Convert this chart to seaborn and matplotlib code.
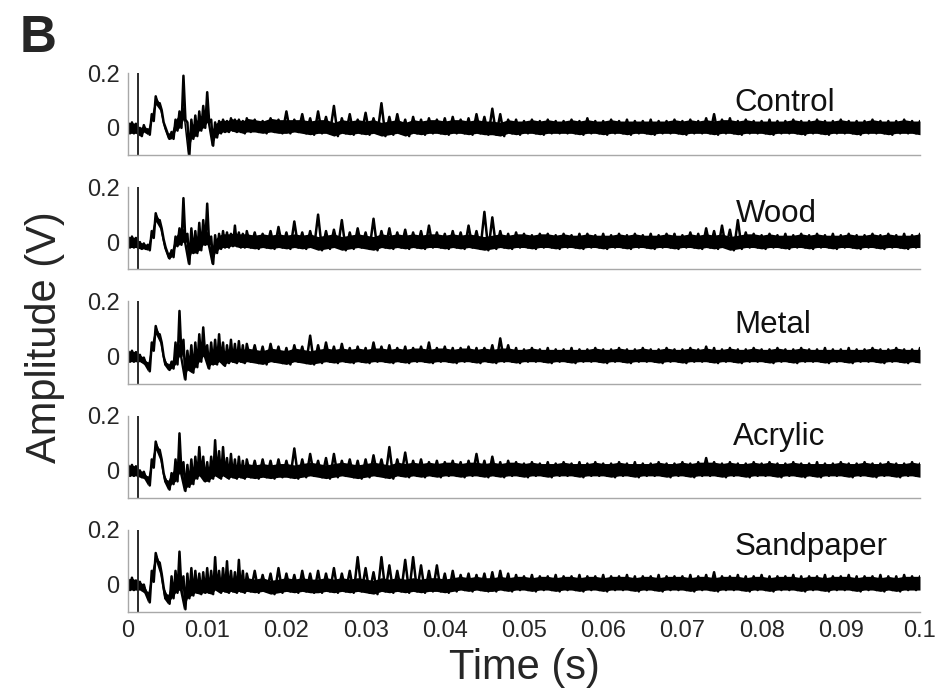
import numpy as np
import matplotlib
matplotlib.use("Agg")
import matplotlib.pyplot as plt
import seaborn as sns

# ---------------------------------------------------------------------------
# Recorded vibration traces (V). Each trace is stored as the upper and lower
# extent of the signal band at every sample time: 0.5 ms steps up to 15 ms,
# then 1 ms steps up to 100 ms.
# ---------------------------------------------------------------------------
time_fine_ms = np.arange(0.0, 15.01, 0.5)
time_coarse_ms = np.arange(16.0, 100.01, 1.0)

surfaces = ["Control", "Wood", "Metal", "Acrylic", "Sandpaper"]

control_upper = [
    0.02, 0.02, 0.015, 0.0, 0.01, -0.005, 0.05, 0.115, 0.09, 0.02,
    -0.02, -0.015, 0.03, 0.06, 0.19, 0.02, 0.03, 0.045, 0.06, 0.08,
    0.13, 0.03, 0.02, 0.025, 0.03, 0.025, 0.035, 0.03, 0.03, 0.025, 0.035,
    0.03, 0.025, 0.035, 0.03, 0.06, 0.03, 0.05, 0.035, 0.06, 0.04,
    0.08, 0.035, 0.05, 0.03, 0.055, 0.035, 0.09, 0.04, 0.05, 0.03,
    0.04, 0.03, 0.035, 0.03, 0.035, 0.04, 0.03, 0.035, 0.05, 0.04,
    0.07, 0.05, 0.03, 0.03, 0.025, 0.03, 0.025, 0.03, 0.025, 0.025,
    0.03, 0.025, 0.035, 0.025, 0.025, 0.03, 0.025, 0.03, 0.025, 0.025,
    0.03, 0.025, 0.025, 0.03, 0.025, 0.03, 0.025, 0.035, 0.05, 0.03,
    0.035, 0.025, 0.03, 0.025, 0.025, 0.03, 0.025, 0.025, 0.03, 0.025,
    0.025, 0.03, 0.025, 0.025, 0.03, 0.025, 0.025, 0.025, 0.03, 0.025,
    0.025, 0.025, 0.03, 0.025, 0.025,
]
control_lower = [
    -0.02, -0.02, -0.02, -0.03, -0.015, -0.025, 0.025, 0.085, 0.065, 0.0,
    -0.04, -0.04, -0.01, 0.0, 0.03, -0.1, -0.04, -0.03, -0.01, 0.0,
    0.02, -0.065, -0.035, -0.02, -0.015, -0.015, -0.01, -0.015, -0.015, -0.02, -0.015,
    -0.015, -0.02, -0.015, -0.02, -0.02, -0.015, -0.02, -0.025, -0.02, -0.02,
    -0.03, -0.02, -0.025, -0.02, -0.025, -0.02, -0.03, -0.025, -0.02, -0.03,
    -0.02, -0.025, -0.02, -0.02, -0.025, -0.02, -0.02, -0.025, -0.02, -0.025,
    -0.025, -0.03, -0.02, -0.025, -0.02, -0.02, -0.025, -0.02, -0.02, -0.02,
    -0.02, -0.025, -0.02, -0.02, -0.025, -0.02, -0.02, -0.025, -0.02, -0.02,
    -0.025, -0.02, -0.02, -0.02, -0.025, -0.02, -0.02, -0.02, -0.025, -0.02,
    -0.02, -0.025, -0.02, -0.02, -0.02, -0.025, -0.02, -0.02, -0.02, -0.025,
    -0.02, -0.02, -0.025, -0.02, -0.02, -0.02, -0.025, -0.02, -0.02, -0.02,
    -0.025, -0.02, -0.02, -0.02, -0.025,
]

wood_upper = [
    0.02, 0.02, 0.015, 0.0, -0.005, -0.01, 0.04, 0.105, 0.08, 0.01,
    -0.04, -0.03, 0.02, 0.05, 0.16, 0.03, 0.05, 0.04, 0.07, 0.08,
    0.14, 0.02, 0.025, 0.03, 0.04, 0.035, 0.03, 0.06, 0.035, 0.03, 0.04,
    0.035, 0.03, 0.04, 0.055, 0.035, 0.075, 0.035, 0.04, 0.1, 0.04,
    0.045, 0.08, 0.035, 0.05, 0.035, 0.085, 0.04, 0.05, 0.035, 0.045,
    0.035, 0.04, 0.06, 0.035, 0.03, 0.04, 0.035, 0.06, 0.04, 0.11,
    0.09, 0.04, 0.03, 0.035, 0.03, 0.025, 0.03, 0.03, 0.025, 0.03,
    0.025, 0.03, 0.03, 0.025, 0.03, 0.025, 0.03, 0.025, 0.03, 0.025,
    0.03, 0.025, 0.03, 0.03, 0.025, 0.035, 0.03, 0.05, 0.04, 0.06,
    0.045, 0.08, 0.035, 0.03, 0.025, 0.03, 0.025, 0.03, 0.025, 0.03,
    0.025, 0.03, 0.025, 0.03, 0.025, 0.03, 0.025, 0.025, 0.03, 0.025,
    0.03, 0.025, 0.03, 0.025, 0.03,
]
wood_lower = [
    -0.02, -0.02, -0.02, -0.025, -0.025, -0.03, 0.015, 0.075, 0.05, -0.02,
    -0.06, -0.055, -0.015, -0.01, 0.0, -0.08, -0.04, -0.04, -0.03, -0.01,
    -0.01, -0.08, -0.04, -0.025, -0.02, -0.02, -0.015, -0.015, -0.02, -0.02, -0.02,
    -0.025, -0.02, -0.025, -0.02, -0.025, -0.02, -0.025, -0.02, -0.03, -0.025,
    -0.02, -0.03, -0.025, -0.02, -0.025, -0.03, -0.02, -0.025, -0.02, -0.025,
    -0.02, -0.025, -0.02, -0.02, -0.025, -0.02, -0.025, -0.02, -0.025, -0.03,
    -0.025, -0.02, -0.025, -0.02, -0.02, -0.025, -0.02, -0.02, -0.025, -0.02,
    -0.02, -0.025, -0.02, -0.02, -0.025, -0.02, -0.02, -0.025, -0.02, -0.02,
    -0.025, -0.02, -0.02, -0.025, -0.02, -0.02, -0.025, -0.02, -0.025, -0.02,
    -0.03, -0.025, -0.02, -0.02, -0.025, -0.02, -0.02, -0.025, -0.02, -0.02,
    -0.025, -0.02, -0.02, -0.025, -0.02, -0.02, -0.025, -0.02, -0.02, -0.025,
    -0.02, -0.02, -0.025, -0.02, -0.02,
]

metal_upper = [
    0.02, 0.02, 0.015, 0.005, -0.005, -0.025, 0.05, 0.11, 0.08, 0.0,
    -0.03, -0.02, 0.05, 0.165, 0.06, 0.02, 0.04, 0.05, 0.08, 0.105,
    0.04, 0.05, 0.06, 0.08, 0.05, 0.04, 0.06, 0.045, 0.055, 0.04, 0.045,
    0.04, 0.035, 0.045, 0.035, 0.03, 0.04, 0.035, 0.075, 0.04, 0.05,
    0.035, 0.045, 0.03, 0.035, 0.03, 0.05, 0.035, 0.04, 0.03, 0.035,
    0.03, 0.035, 0.05, 0.03, 0.035, 0.03, 0.03, 0.035, 0.03, 0.03,
    0.04, 0.065, 0.04, 0.03, 0.025, 0.03, 0.025, 0.03, 0.025, 0.025,
    0.03, 0.025, 0.025, 0.03, 0.025, 0.025, 0.03, 0.025, 0.025, 0.03,
    0.025, 0.025, 0.03, 0.025, 0.025, 0.03, 0.025, 0.035, 0.03, 0.025,
    0.03, 0.025, 0.025, 0.03, 0.025, 0.025, 0.03, 0.025, 0.025, 0.03,
    0.025, 0.025, 0.03, 0.025, 0.025, 0.03, 0.025, 0.025, 0.03, 0.025,
    0.025, 0.03, 0.025, 0.025, 0.03,
]
metal_lower = [
    -0.02, -0.02, -0.02, -0.02, -0.03, -0.055, 0.02, 0.08, 0.05, -0.03,
    -0.05, -0.045, -0.03, 0.0, -0.085, -0.05, -0.06, -0.04, -0.02, 0.0,
    -0.045, -0.03, -0.03, -0.02, -0.035, -0.025, -0.02, -0.025, -0.02, -0.025, -0.02,
    -0.025, -0.03, -0.02, -0.025, -0.03, -0.02, -0.025, -0.03, -0.025, -0.02,
    -0.025, -0.02, -0.025, -0.02, -0.025, -0.02, -0.02, -0.025, -0.02, -0.025,
    -0.02, -0.02, -0.025, -0.02, -0.02, -0.025, -0.02, -0.02, -0.025, -0.02,
    -0.025, -0.02, -0.02, -0.025, -0.02, -0.02, -0.02, -0.025, -0.02, -0.02,
    -0.025, -0.02, -0.02, -0.02, -0.025, -0.02, -0.02, -0.025, -0.02, -0.02,
    -0.02, -0.025, -0.02, -0.02, -0.025, -0.02, -0.02, -0.02, -0.025, -0.02,
    -0.02, -0.025, -0.02, -0.02, -0.02, -0.025, -0.02, -0.02, -0.025, -0.02,
    -0.02, -0.02, -0.025, -0.02, -0.02, -0.025, -0.02, -0.02, -0.02, -0.025,
    -0.02, -0.02, -0.025, -0.02, -0.025,
]

acrylic_upper = [
    0.02, 0.02, 0.015, 0.0, -0.005, -0.025, 0.04, 0.105, 0.075, -0.01,
    -0.04, -0.01, 0.04, 0.135, 0.03, 0.02, 0.04, 0.05, 0.085, 0.05,
    0.03, 0.05, 0.11, 0.07, 0.085, 0.045, 0.06, 0.04, 0.05, 0.035, 0.04,
    0.035, 0.04, 0.035, 0.04, 0.035, 0.08, 0.04, 0.06, 0.035, 0.045,
    0.06, 0.035, 0.04, 0.035, 0.04, 0.055, 0.04, 0.085, 0.04, 0.065,
    0.035, 0.04, 0.03, 0.035, 0.03, 0.035, 0.03, 0.035, 0.06, 0.035,
    0.05, 0.03, 0.035, 0.03, 0.025, 0.03, 0.025, 0.03, 0.025, 0.03,
    0.025, 0.03, 0.025, 0.03, 0.025, 0.025, 0.03, 0.025, 0.03, 0.025,
    0.025, 0.03, 0.025, 0.025, 0.03, 0.025, 0.03, 0.045, 0.03, 0.025,
    0.03, 0.025, 0.025, 0.03, 0.025, 0.03, 0.025, 0.025, 0.03, 0.025,
    0.025, 0.03, 0.025, 0.025, 0.03, 0.025, 0.025, 0.03, 0.025, 0.025,
    0.03, 0.025, 0.025, 0.03, 0.025,
]
acrylic_lower = [
    -0.02, -0.02, -0.02, -0.025, -0.03, -0.055, 0.01, 0.075, 0.04, -0.04,
    -0.07, -0.05, -0.04, -0.01, -0.075, -0.06, -0.05, -0.03, -0.02, -0.04,
    -0.04, -0.03, -0.02, -0.03, -0.02, -0.03, -0.025, -0.03, -0.025, -0.03, -0.025,
    -0.03, -0.025, -0.03, -0.025, -0.025, -0.03, -0.025, -0.02, -0.025, -0.03,
    -0.025, -0.02, -0.025, -0.03, -0.025, -0.02, -0.025, -0.03, -0.02, -0.025,
    -0.02, -0.025, -0.02, -0.025, -0.02, -0.02, -0.025, -0.02, -0.02, -0.025,
    -0.02, -0.025, -0.02, -0.02, -0.025, -0.02, -0.02, -0.025, -0.02, -0.02,
    -0.02, -0.025, -0.02, -0.02, -0.02, -0.025, -0.02, -0.02, -0.025, -0.02,
    -0.02, -0.02, -0.025, -0.02, -0.02, -0.025, -0.02, -0.02, -0.02, -0.025,
    -0.02, -0.02, -0.025, -0.02, -0.02, -0.02, -0.025, -0.02, -0.02, -0.025,
    -0.02, -0.025, -0.02, -0.02, -0.02, -0.025, -0.02, -0.02, -0.025, -0.02,
    -0.02, -0.025, -0.02, -0.02, -0.025,
]

sandpaper_upper = [
    0.02, 0.025, 0.015, 0.01, 0.0, -0.03, 0.05, 0.115, 0.08, -0.01,
    -0.04, 0.03, 0.05, 0.12, 0.03, 0.04, 0.06, 0.05, 0.04, 0.045,
    0.06, 0.05, 0.1, 0.05, 0.06, 0.085, 0.05, 0.045, 0.09, 0.05, 0.04,
    0.05, 0.035, 0.04, 0.06, 0.04, 0.035, 0.05, 0.04, 0.05, 0.04,
    0.06, 0.04, 0.05, 0.1, 0.06, 0.045, 0.1, 0.07, 0.05, 0.09,
    0.1, 0.07, 0.05, 0.07, 0.04, 0.05, 0.035, 0.04, 0.035, 0.04,
    0.045, 0.05, 0.04, 0.035, 0.03, 0.035, 0.03, 0.03, 0.035, 0.03,
    0.03, 0.035, 0.03, 0.03, 0.035, 0.03, 0.03, 0.035, 0.03, 0.03,
    0.03, 0.035, 0.03, 0.03, 0.03, 0.035, 0.03, 0.035, 0.045, 0.03,
    0.03, 0.035, 0.03, 0.03, 0.035, 0.03, 0.03, 0.03, 0.035, 0.03,
    0.03, 0.03, 0.035, 0.03, 0.03, 0.035, 0.03, 0.03, 0.03, 0.035,
    0.03, 0.03, 0.035, 0.03, 0.03,
]
sandpaper_lower = [
    -0.02, -0.02, -0.02, -0.02, -0.03, -0.065, 0.01, 0.085, 0.04, -0.05,
    -0.07, -0.05, -0.03, -0.02, -0.09, -0.05, -0.04, -0.03, -0.035, -0.03,
    -0.03, -0.035, -0.02, -0.03, -0.025, -0.03, -0.025, -0.03, -0.025, -0.03, -0.025,
    -0.03, -0.025, -0.035, -0.03, -0.025, -0.03, -0.025, -0.03, -0.03, -0.025,
    -0.03, -0.025, -0.03, -0.025, -0.03, -0.035, -0.025, -0.03, -0.025, -0.03,
    -0.025, -0.03, -0.025, -0.025, -0.03, -0.025, -0.02, -0.025, -0.02, -0.025,
    -0.025, -0.02, -0.025, -0.02, -0.02, -0.025, -0.02, -0.02, -0.025, -0.02,
    -0.02, -0.025, -0.02, -0.02, -0.025, -0.02, -0.02, -0.02, -0.025, -0.02,
    -0.02, -0.025, -0.02, -0.02, -0.02, -0.025, -0.02, -0.02, -0.025, -0.02,
    -0.02, -0.02, -0.025, -0.02, -0.02, -0.025, -0.02, -0.02, -0.02, -0.025,
    -0.02, -0.02, -0.025, -0.02, -0.02, -0.02, -0.025, -0.02, -0.02, -0.025,
    -0.02, -0.025, -0.02, -0.02, -0.02,
]

# Trigger artefact recorded at the start of every trace (s)
trigger_time = 0.00126

# Where each surface name sits: (time s, amplitude V) of the text baseline
label_time = [0.0766, 0.0768, 0.0766, 0.0764, 0.0766]
label_amp = [0.063, 0.074, 0.083, 0.093, 0.107]

x_ticks = [0, 0.01, 0.02, 0.03, 0.04, 0.05, 0.06, 0.07, 0.08, 0.09, 0.1]
x_tick_labels = ["0", "0.01", "0.02", "0.03", "0.04", "0.05",
                 "0.06", "0.07", "0.08", "0.09", "0.1"]
y_ticks = [0.0, 0.1, 0.2]
y_tick_labels = ["0", "", "0.2"]

# ---------------------------------------------------------------------------
sns.set_style("white")
plt.rcParams["font.family"] = ["Liberation Sans", "DejaVu Sans"]

time_s = np.concatenate([time_fine_ms, time_coarse_ms]) / 1000.0
step = np.diff(time_s, append=time_s[-1] + 0.001)

traces = {
    "Control": (control_upper, control_lower),
    "Wood": (wood_upper, wood_lower),
    "Metal": (metal_upper, metal_lower),
    "Acrylic": (acrylic_upper, acrylic_lower),
    "Sandpaper": (sandpaper_upper, sandpaper_lower),
}

# thickest part of the dense noise band; anything above is an isolated spike
band_depth = 0.05

fig = plt.figure(figsize=(9.42, 6.99), dpi=100)
axes = fig.subplots(5, 1, sharex=True)
fig.subplots_adjust(left=128 / 942, right=920 / 942,
                    top=1 - 73 / 699, bottom=1 - 612 / 699, hspace=0.387)

spine_grey = "#a8a8a8"

for i, (ax, name) in enumerate(zip(axes, surfaces)):
    upper = np.asarray(traces[name][0])
    lower = np.asarray(traces[name][1])

    # solid core of the noise band
    core_top = np.minimum(upper, lower + band_depth)
    ax.fill_between(time_s, lower, core_top, color="black", linewidth=0)

    # zig-zag through the extremes: ragged edges and thin spikes
    zx = np.empty(2 * len(time_s))
    zy = np.empty(2 * len(time_s))
    zx[0::2] = time_s
    zx[1::2] = time_s + 0.5 * step
    zy[0::2] = upper
    zy[1::2] = lower
    sns.lineplot(x=zx, y=zy, ax=ax, color="black", linewidth=1.8,
                 estimator=None, sort=False)

    ax.axvline(trigger_time, color="#2a2a2a", linewidth=1.4)

    ax.set_xlim(0, 0.1)
    ax.set_ylim(-0.1, 0.2)
    ax.set_xticks(x_ticks)
    ax.set_xticklabels(x_tick_labels)
    ax.set_yticks(y_ticks)
    ax.set_yticklabels(y_tick_labels)
    ax.set_xlabel("")
    ax.set_ylabel("")

    sns.despine(ax=ax, top=True, right=True)
    for side in ("left", "bottom"):
        ax.spines[side].set_color(spine_grey)
        ax.spines[side].set_linewidth(1.0)
    ax.tick_params(axis="both", direction="in", length=4, width=0.8,
                   color=spine_grey, labelsize=17, pad=6)

    ax.text(label_time[i], label_amp[i], name, fontsize=22.5,
            ha="left", va="baseline", color="#111111")

fig.text(0.557, 1 - 668 / 699, "Time (s)", ha="center", va="center", fontsize=30)
fig.text(0.048, 1 - 337 / 699, "Amplitude (V)", ha="center", va="center",
         rotation=90, fontsize=30)
fig.text(0.021, 1 - 52 / 699, "B", ha="left", va="baseline",
         fontsize=37, fontweight="bold")

fig.savefig("out.png", dpi=100)
